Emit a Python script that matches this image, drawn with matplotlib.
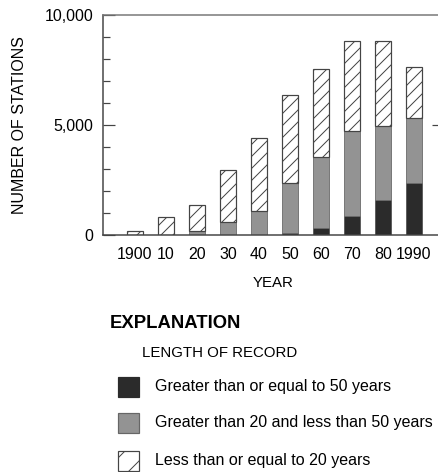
import matplotlib
matplotlib.use('Agg')
import matplotlib.pyplot as plt
from matplotlib.patches import Rectangle
from matplotlib.ticker import MultipleLocator, FixedLocator

plt.rcParams['font.family'] = ['Liberation Sans', 'DejaVu Sans']
plt.rcParams['hatch.linewidth'] = 1.0

years = [1900, 1910, 1920, 1930, 1940, 1950, 1960, 1970, 1980, 1990]
year_labels = ['1900', '10', '20', '30', '40', '50', '60', '70', '80', '1990']
# stations by length of record
long_rec = [0, 0, 0, 0, 0, 90, 320, 860, 1590, 2360]          # >= 50 years
mid_rec = [0, 0, 180, 590, 1090, 2270, 3230, 3870, 3360, 2970]  # 20 - 50 years
short_rec = [180, 820, 1180, 2360, 3310, 4000, 4000, 4090, 3870, 2310]  # <= 20 years

dark = '#2b2b2b'
mid = '#939393'
line = '#444444'

W, H = 438, 472
fig = plt.figure(figsize=(W / 72, H / 72), dpi=72)
ax = fig.add_axes([103 / W, 1 - 235 / H, 335 / W, 220 / H])

bw = 5.3
ax.bar(years, long_rec, width=bw, color=dark, edgecolor=dark, linewidth=0.5)
ax.bar(years, mid_rec, width=bw, bottom=long_rec, color=mid, edgecolor='#666666', linewidth=0.8)
base = [a + b for a, b in zip(long_rec, mid_rec)]
ax.bar(years, short_rec, width=bw, bottom=base, color='white', edgecolor=line,
       linewidth=1.2, hatch='//')

ax.set_xlim(1889.7, 1997.8)
ax.set_ylim(0, 10000)
ax.set_xticks(years)
ax.set_xticklabels(year_labels, fontsize=16)
ax.tick_params(axis='x', length=0, pad=12)
ax.set_yticks([0, 5000, 10000])
ax.set_yticklabels(['0', '5,000', '10,000'], fontsize=16)
ax.yaxis.set_minor_locator(MultipleLocator(1000))
ax.tick_params(axis='y', which='major', direction='in', length=12, width=1.2, color=line, pad=10)
ax.tick_params(axis='y', which='minor', direction='in', length=7, width=1.2, color=line)

for s in ['left', 'bottom']:
    ax.spines[s].set_color(line)
    ax.spines[s].set_linewidth(1.5)
ax.spines['top'].set_color('#777777')
ax.spines['top'].set_linewidth(1.5)
ax.spines['right'].set_visible(False)

# small inward tick at 5,000 on the right side
rt = ax.twinx()
rt.set_ylim(0, 10000)
rt.yaxis.set_major_locator(FixedLocator([5000]))
rt.set_yticklabels([])
rt.tick_params(axis='y', direction='in', length=6, width=1.2, color=line)
for s in rt.spines.values():
    s.set_visible(False)

ax.set_ylabel('NUMBER OF STATIONS', fontsize=16)
ax.yaxis.set_label_coords(-76 / 335, 0.5)
fig.text(273 / W, 1 - 283 / H, 'YEAR', fontsize=15, ha='center', va='center')

# explanation block
fig.text(110 / W, 1 - 323 / H, 'EXPLANATION', fontsize=18.5, fontweight='bold',
         ha='left', va='center')
fig.text(142 / W, 1 - 353 / H, 'LENGTH OF RECORD', fontsize=15, ha='left', va='center')

entries = [
    (dict(facecolor=dark, edgecolor=dark), 387, 'Greater than or equal to 50 years'),
    (dict(facecolor=mid, edgecolor='#666666'), 423, 'Greater than 20 and less than 50 years'),
    (dict(facecolor='white', edgecolor=line, hatch='/'), 461, 'Less than or equal to 20 years'),
]
for style, yc, label in entries:
    fig.add_artist(Rectangle((118 / W, 1 - (yc + 10) / H), 21 / W, 20 / H,
                             transform=fig.transFigure, linewidth=1.2, **style))
    fig.text(155 / W, 1 - yc / H, label, fontsize=16, ha='left', va='center')

fig.savefig('out.png', dpi=72)
